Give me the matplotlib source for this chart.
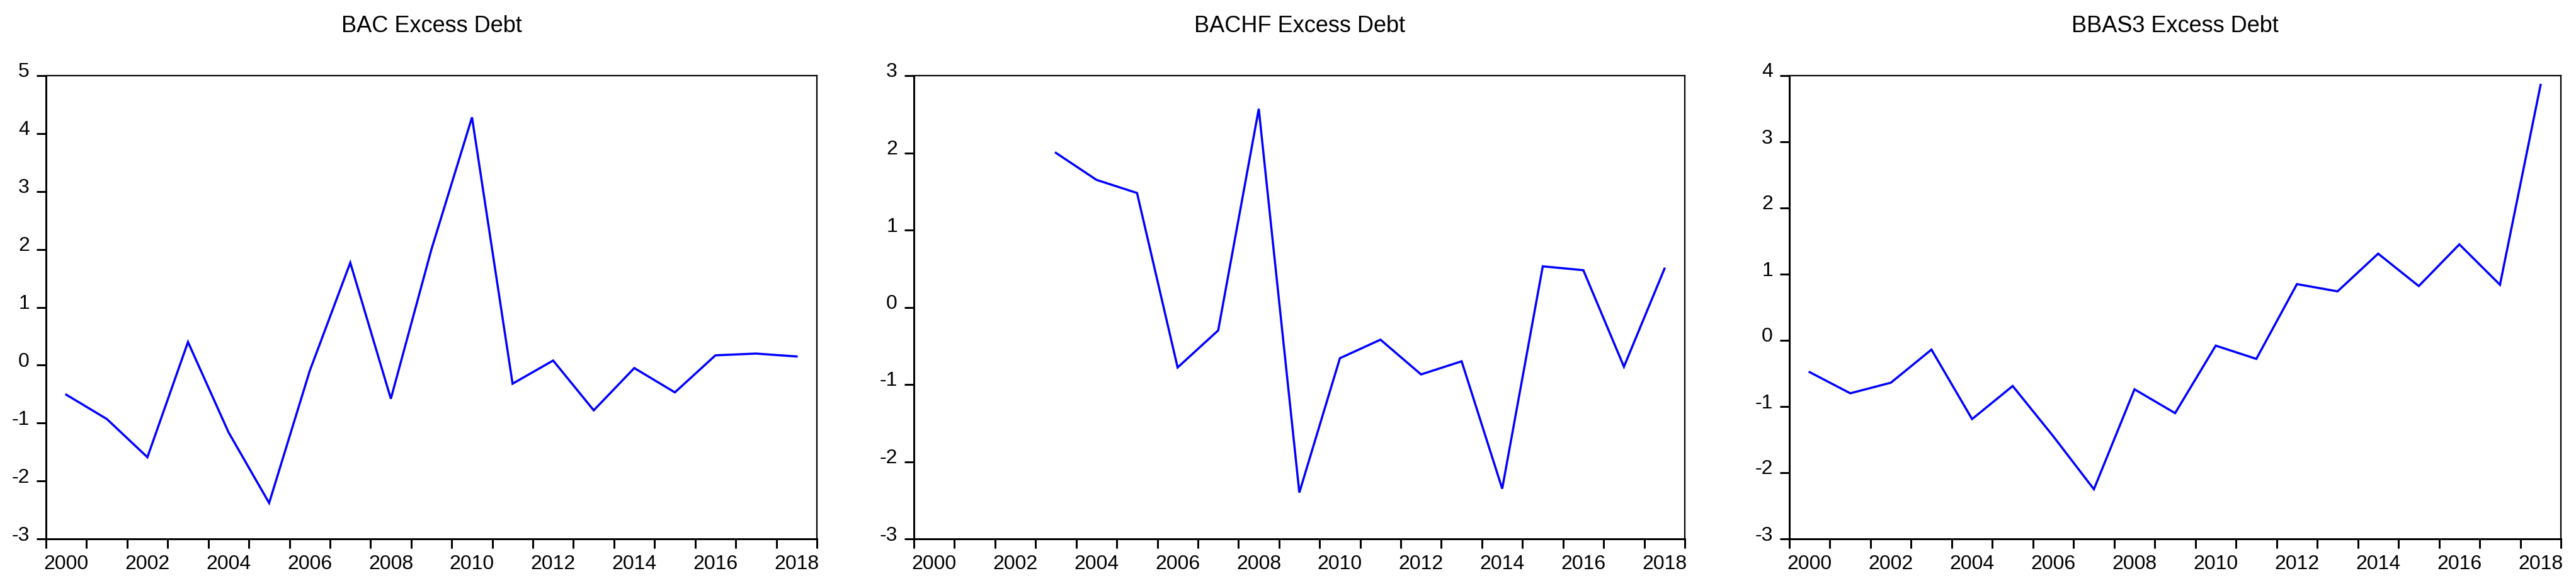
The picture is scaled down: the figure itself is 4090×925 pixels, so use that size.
import matplotlib
matplotlib.use("Agg")
import matplotlib.pyplot as plt
import numpy as np
from matplotlib.transforms import ScaledTranslation

plt.rcParams['font.family'] = ['Liberation Sans', 'DejaVu Sans']

years = list(range(2000, 2019))

bac = [-0.51, -0.93, -1.59, 0.40, -1.16, -2.38, -0.10, 1.77, -0.58, 2.00,
       4.28, -0.32, 0.08, -0.78, -0.05, -0.47, 0.17, 0.20, 0.15]

bachf_years = list(range(2003, 2019))
bachf = [2.00, 1.65, 1.48, -0.78, -0.30, 2.57, -2.40, -0.66, -0.42, -0.87,
         -0.70, -2.35, 0.53, 0.48, -0.77, 0.50]

bbas3 = [-0.48, -0.80, -0.64, -0.14, -1.19, -0.69, -1.45, -2.25, -0.74, -1.10,
         -0.08, -0.28, 0.85, 0.74, 1.31, 0.82, 1.45, 0.84, 3.86]

titles = ["BAC Excess Debt", "BACHF Excess Debt", "BBAS3 Excess Debt"]
yranges = [(-3, 5), (-3, 3), (-3, 4)]
x_labels = [str(y) for y in range(2000, 2019, 2)]

W, H = 4091, 925
dpi = 100
fig = plt.figure(figsize=(W / dpi, H / dpi), dpi=dpi)

lefts = [73, 1451, 2841]
widths = [1224, 1224, 1225]
bottom_px = 70
height_px = 735

series = [(years, bac), (bachf_years, bachf), (years, bbas3)]

for i in range(3):
    ax = fig.add_axes([lefts[i] / W, bottom_px / H, widths[i] / W, height_px / H])
    xs, vals = series[i]
    ax.plot(np.array(xs) + 0.5, vals, color='#0000FF', lw=2.5, solid_joinstyle='miter')
    ax.set_xlim(2000, 2019)
    lo, hi = yranges[i]
    ax.set_ylim(lo, hi)
    ax.set_yticks(range(lo, hi + 1))
    ax.set_yticklabels([str(v) for v in range(lo, hi + 1)])
    ax.set_xticks(range(2000, 2020))
    ax.set_xticklabels([])
    ax.set_xticks([y + 0.5 for y in range(2000, 2019, 2)], minor=True)
    ax.set_xticklabels(x_labels, minor=True)
    ax.tick_params(axis='both', which='major', direction='out', length=10.8,
                   width=2.16, labelsize=23, color='black')
    ax.tick_params(axis='y', which='major', pad=8)
    ax.tick_params(axis='x', which='minor', length=0, pad=18, labelsize=23)
    ax.tick_params(axis='y', which='minor', left=False)
    for side in ['left', 'bottom']:
        ax.spines[side].set_linewidth(2.16)
    for side in ['top', 'right']:
        ax.spines[side].set_linewidth(1.6)
    ax.set_title(titles[i], fontsize=26, pad=50)
    offset = ScaledTranslation(0, 9 / dpi, fig.dpi_scale_trans)
    for lab in ax.get_yticklabels():
        lab.set_transform(lab.get_transform() + offset)

fig.savefig("out.png", dpi=dpi, facecolor='white')
